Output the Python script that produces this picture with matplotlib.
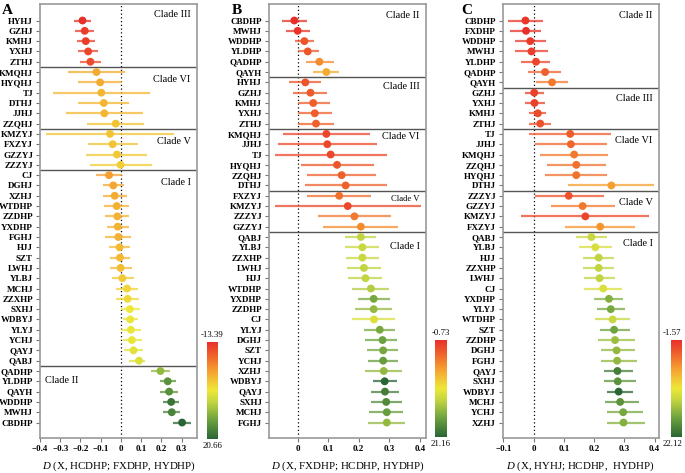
import numpy as np
import matplotlib
matplotlib.use("Agg")
import matplotlib.pyplot as plt
from matplotlib.colors import LinearSegmentedColormap, Normalize
from matplotlib.cm import ScalarMappable

plt.rcParams["font.family"] = ["Liberation Serif", "DejaVu Serif"]
plt.rcParams["mathtext.fontset"] = "custom"
plt.rcParams["mathtext.it"] = "Liberation Serif:italic"
plt.rcParams["mathtext.rm"] = "Liberation Serif"

# ---- panel A: D (X, HCDHP; FXDHP, HYDHP) -----------------------------------
a_clades = [("Clade III", 5), ("Clade VI", 6), ("Clade V", 4), ("Clade I", 19), ("Clade II", 6)]
a_labels = ["HYHJ", "GZHJ", "KMHJ", "YXHJ", "ZTHJ",
            "KMQHJ", "HYQHJ", "TJ", "DTHJ", "JJHJ", "ZZQHJ",
            "KMZYJ", "FXZYJ", "GZZYJ", "ZZZYJ",
            "CJ", "DGHJ", "XZHJ", "WTDHP", "ZZDHP", "YXDHP", "FGHJ", "HJJ", "SZT", "LWHJ",
            "YLBJ", "MCHJ", "ZZXHP", "SXHJ", "WDBYJ", "YLYJ", "YCHJ", "QAYJ", "QABJ",
            "QADHP", "YLDHP", "QAYH", "WDDHP", "MWHJ", "CBDHP"]
a_d = [-0.190, -0.179, -0.174, -0.162, -0.151,
       -0.121, -0.103, -0.097, -0.085, -0.082, -0.026,
       -0.054, -0.041, -0.020, -0.002,
       -0.059, -0.038, -0.031, -0.021, -0.018, -0.016, -0.013, -0.007, -0.005, -0.002,
       0.007, 0.030, 0.033, 0.044, 0.046, 0.049, 0.054, 0.062, 0.089,
       0.195, 0.231, 0.238, 0.248, 0.251, 0.302]
a_lo = [-0.234, -0.228, -0.218, -0.210, -0.200,
        -0.262, -0.211, -0.336, -0.211, -0.274, -0.167,
        -0.372, -0.165, -0.172, -0.152,
        -0.121, -0.087, -0.087, -0.082, -0.077, -0.069, -0.077, -0.059, -0.052, -0.054,
        -0.046, -0.026, -0.025, 0.000, 0.008, 0.000, 0.008, 0.016, 0.041,
        0.146, 0.192, 0.193, 0.208, 0.208, 0.257]
a_hi = [-0.148, -0.131, -0.128, -0.111, -0.097,
        0.020, 0.007, 0.143, 0.038, 0.110, 0.116,
        0.264, 0.082, 0.131, 0.152,
        0.007, 0.013, 0.028, 0.039, 0.041, 0.038, 0.052, 0.046, 0.044, 0.054,
        0.062, 0.085, 0.090, 0.093, 0.082, 0.100, 0.102, 0.107, 0.121,
        0.244, 0.270, 0.284, 0.285, 0.292, 0.348]
a_z = [-13.39, -12.0, -12.0, -11.3, -10.7,
       -2.2, -2.2, -1.1, -1.1, -1.1, 0.2,
       0.2, 0.2, 0.6, 1.2,
       -3.2, -2.5, -2.2, -1.8, -1.5, -1.5, -1.5, -0.8, -0.8, -0.5,
       0.6, 1.9, 2.3, 3.6, 4.0, 4.0, 4.3, 4.7, 5.3,
       11.1, 15.9, 15.9, 19.0, 17.3, 20.66]

# ---- panel B: D (X, FXDHP; HCDHP, HYDHP) -----------------------------------
b_clades = [("Clade II", 6), ("Clade III", 5), ("Clade VI", 6), ("Clade V", 4), ("Clade I", 19)]
b_labels = ["CBDHP", "MWHJ", "WDDHP", "YLDHP", "QADHP", "QAYH",
            "HYHJ", "GZHJ", "KMHJ", "YXHJ", "ZTHJ",
            "KMQHJ", "JJHJ", "TJ", "HYQHJ", "ZZQHJ", "DTHJ",
            "FXZYJ", "KMZYJ", "ZZZYJ", "GZZYJ",
            "QABJ", "YLBJ", "ZZXHP", "LWHJ", "HJJ", "WTDHP", "YXDHP", "ZZDHP", "CJ", "YLYJ",
            "DGHJ", "SZT", "YCHJ", "XZHJ", "WDBYJ", "QAYJ", "SXHJ", "MCHJ", "FGHJ"]
b_d = [-0.011, 0.000, 0.022, 0.033, 0.071, 0.094,
       0.025, 0.042, 0.051, 0.056, 0.060,
       0.094, 0.097, 0.108, 0.129, 0.144, 0.157,
       0.136, 0.164, 0.186, 0.207,
       0.207, 0.212, 0.212, 0.217, 0.222, 0.240, 0.249, 0.249, 0.250, 0.269,
       0.278, 0.280, 0.280, 0.282, 0.285, 0.286, 0.290, 0.292, 0.292]
b_lo = [-0.050, -0.038, -0.008, 0.001, 0.027, 0.050,
        -0.028, -0.014, 0.000, 0.001, 0.000,
        -0.049, -0.064, -0.074, 0.011, 0.032, 0.025,
        0.031, -0.074, 0.066, 0.083,
        0.155, 0.155, 0.158, 0.162, 0.166, 0.179, 0.196, 0.189, 0.179, 0.218,
        0.222, 0.227, 0.230, 0.222, 0.246, 0.240, 0.240, 0.235, 0.232]
b_hi = [0.030, 0.040, 0.052, 0.069, 0.119, 0.135,
        0.077, 0.097, 0.105, 0.112, 0.120,
        0.237, 0.259, 0.292, 0.249, 0.257, 0.292,
        0.240, 0.403, 0.305, 0.328,
        0.257, 0.268, 0.266, 0.272, 0.276, 0.300, 0.302, 0.308, 0.319, 0.318,
        0.326, 0.330, 0.330, 0.341, 0.325, 0.332, 0.341, 0.346, 0.351]
b_z = [-0.73, -0.5, 1.5, 1.5, 4.7, 6.5,
       1.5, 1.9, 2.1, 2.1, 2.3,
       0.6, 0.8, 0.8, 1.5, 2.1, 2.3,
       3.2, 0.8, 3.6, 4.7,
       12.8, 12.4, 12.4, 12.8, 12.8, 13.5, 16.3, 15.0, 11.3, 16.3,
       16.8, 16.3, 17.2, 15.0, 21.16, 19.4, 18.5, 17.2, 15.0]

# ---- panel C: D (X, HYHJ; HCDHP, HYDHP) ------------------------------------
c_clades = [("Clade II", 7), ("Clade III", 4), ("Clade VI", 6), ("Clade V", 4), ("Clade I", 19)]
c_labels = ["CBDHP", "FXDHP", "WDDHP", "MWHJ", "YLDHP", "QADHP", "QAYH",
            "GZHJ", "YXHJ", "KMHJ", "ZTHJ",
            "TJ", "JJHJ", "KMQHJ", "ZZQHJ", "HYQHJ", "DTHJ",
            "ZZZYJ", "GZZYJ", "KMZYJ", "FXZYJ",
            "QABJ", "YLBJ", "HJJ", "ZZXHP", "LWHJ", "CJ", "YXDHP", "YLYJ", "WTDHP", "SZT",
            "ZZDHP", "DGHJ", "FGHJ", "QAYJ", "SXHJ", "WDBYJ", "MCHJ", "YCHJ", "XZHJ"]
c_d = [-0.027, -0.025, -0.011, -0.007, 0.008, 0.038, 0.061,
       0.002, 0.003, 0.014, 0.022,
       0.121, 0.123, 0.134, 0.141, 0.141, 0.257,
       0.116, 0.162, 0.171, 0.220,
       0.191, 0.204, 0.215, 0.215, 0.218, 0.230, 0.249, 0.255, 0.261, 0.266,
       0.269, 0.274, 0.276, 0.277, 0.278, 0.281, 0.286, 0.296, 0.297]
c_lo = [-0.086, -0.078, -0.062, -0.062, -0.043, -0.018, 0.008,
        -0.030, -0.030, -0.016, -0.014,
        -0.016, 0.003, 0.021, 0.043, 0.038, 0.115,
        0.003, 0.056, -0.042, 0.104,
        0.141, 0.150, 0.163, 0.163, 0.166, 0.168, 0.199, 0.209, 0.203, 0.219,
        0.213, 0.223, 0.223, 0.233, 0.233, 0.242, 0.235, 0.242, 0.242]
c_hi = [0.032, 0.024, 0.040, 0.048, 0.055, 0.092, 0.114,
        0.033, 0.037, 0.042, 0.056,
        0.255, 0.242, 0.245, 0.238, 0.244, 0.398,
        0.232, 0.268, 0.382, 0.335,
        0.242, 0.259, 0.265, 0.267, 0.270, 0.291, 0.297, 0.301, 0.320, 0.319,
        0.336, 0.336, 0.341, 0.328, 0.339, 0.330, 0.349, 0.361, 0.367]
c_z = [-1.1, -1.57, -0.9, -0.6, -0.15, 1.5, 3.2,
       -0.4, -0.4, 0.3, 0.8,
       1.3, 2.0, 3.2, 2.7, 2.7, 5.5,
       0.8, 3.2, -0.15, 5.0,
       12.6, 11.7, 13.1, 13.1, 13.1, 11.5, 16.2, 16.9, 12.6, 17.4,
       15.0, 15.5, 15.5, 20.2, 18.6, 22.12, 18.6, 16.9, 16.2]

panels = [
    dict(tag="A", labels=a_labels, d=a_d, lo=a_lo, hi=a_hi, z=a_z, clades=a_clades,
         zmin=-13.39, zmax=20.66, xlim=(-0.4, 0.375), xticks=[-0.4, -0.3, -0.2, -0.1, 0, 0.1, 0.2, 0.3],
         xlabel=r"$\mathit{D}$ (X, HCDHP; FXDHP, HYDHP)",
         ax=[0.0584, 0.074, 0.229, 0.9175], cax=[0.302, 0.072, 0.016, 0.205], let_x=0.002,
         cb_lab_x=0.5,
         clade_off=[-0.6, 0.75, 0.7, 0.7, 0.9], clade_left=[False, False, False, False, True]),
    dict(tag="B", labels=b_labels, d=b_d, lo=b_lo, hi=b_hi, z=b_z, clades=b_clades,
         zmin=-0.73, zmax=21.16, xlim=(-0.094, 0.42), xticks=[0, 0.1, 0.2, 0.3, 0.4],
         xlabel=r"$\mathit{D}$ (X, FXDHP; HCDHP, HYDHP)",
         ax=[0.3927, 0.074, 0.229, 0.9175], cax=[0.635, 0.076, 0.017, 0.205], let_x=0.338,
         cb_lab_x=0.5,
         clade_off=[-0.45, 0.4, 0.3, 0.3, 0.9], clade_left=[False] * 5),
    dict(tag="C", labels=c_labels, d=c_d, lo=c_lo, hi=c_hi, z=c_z, clades=c_clades,
         zmin=-1.57, zmax=22.12, xlim=(-0.102, 0.414), xticks=[-0.1, 0, 0.1, 0.2, 0.3, 0.4],
         xlabel=r"$\mathit{D}$ (X, HYHJ; HCDHP,  HYDHP)",
         ax=[0.7339, 0.074, 0.228, 0.9175], cax=[0.979, 0.076, 0.017, 0.205], let_x=0.673,
         cb_lab_x=0.15,
         clade_off=[-0.45, 0.6, 0.65, 0.7, 0.6], clade_left=[False] * 5),
]

# red (most negative Z) -> orange -> yellow -> green -> dark green
cmap = LinearSegmentedColormap.from_list("zscore", [
    (0.0, "#e8302a"), (0.15, "#ef662c"), (0.30, "#f5a031"), (0.50, "#eee838"),
    (0.62, "#c2d441"), (0.80, "#6ea33f"), (1.0, "#2a6535")])

fig = plt.figure(figsize=(6.85, 4.73), dpi=100)

for p in panels:
    ax = fig.add_axes(p["ax"])
    n = len(p["labels"])
    y = np.arange(n)
    norm = Normalize(p["zmin"], p["zmax"])
    cols = cmap(norm(np.array(p["z"])))

    ax.hlines(y, p["lo"], p["hi"], colors=cols, lw=1.6, alpha=0.75, zorder=2)
    ax.scatter(p["d"], y, c=cols, s=32, zorder=3, linewidths=0)
    ax.axvline(0, color="black", ls=(0, (1, 2)), lw=0.9, zorder=1)

    # clade separators + names
    start = 0
    for k, (name, cnt) in enumerate(p["clades"]):
        if start > 0:
            ax.axhline(start - 0.5, color="#555555", lw=1.0, zorder=1)
        yy = start + p["clade_off"][k]
        fs = 6.2 if (p["tag"] == "B" and name == "Clade V") else 7.4
        if p["clade_left"][k]:
            ax.text(0.03, yy, name, transform=ax.get_yaxis_transform(),
                    ha="left", va="center", fontsize=fs)
        else:
            ax.text(0.96, yy, name, transform=ax.get_yaxis_transform(),
                    ha="right", va="center", fontsize=fs)
        start += cnt

    ax.set_ylim(n - 1 + 1.5, -1.6)
    ax.set_xlim(*p["xlim"])
    ax.set_yticks(y)
    ax.set_yticklabels(p["labels"], fontsize=6.5, fontweight="bold")
    ax.set_xticks(p["xticks"])
    ax.set_xticklabels([f"{v:g}".replace("-", "\u2212") for v in p["xticks"]],
                       fontsize=6.5, fontweight="bold")
    ax.set_xlabel(p["xlabel"], fontsize=7.8, labelpad=5)
    ax.tick_params(axis="both", length=3, width=0.8, color="#777777", pad=2)
    for s in ax.spines.values():
        s.set_color("#999999")
        s.set_linewidth(1.2)

    fig.text(p["let_x"], 0.992, p["tag"], fontsize=11, fontweight="bold",
             ha="left", va="top")

    # colour bar: most negative Z at top
    cax = fig.add_axes(p["cax"])
    sm = ScalarMappable(norm=norm, cmap=cmap)
    cb = fig.colorbar(sm, cax=cax)
    cb.outline.set_visible(False)
    cax.invert_yaxis()
    cax.set_yticks([])
    cax.text(p["cb_lab_x"], 1.03, f"{p['zmin']:.2f}", transform=cax.transAxes,
             ha="center", va="bottom", fontsize=6.3)
    cax.text(p["cb_lab_x"], -0.03, f"{p['zmax']:.2f}", transform=cax.transAxes,
             ha="center", va="top", fontsize=6.3)

fig.savefig("out.png", dpi=100)
